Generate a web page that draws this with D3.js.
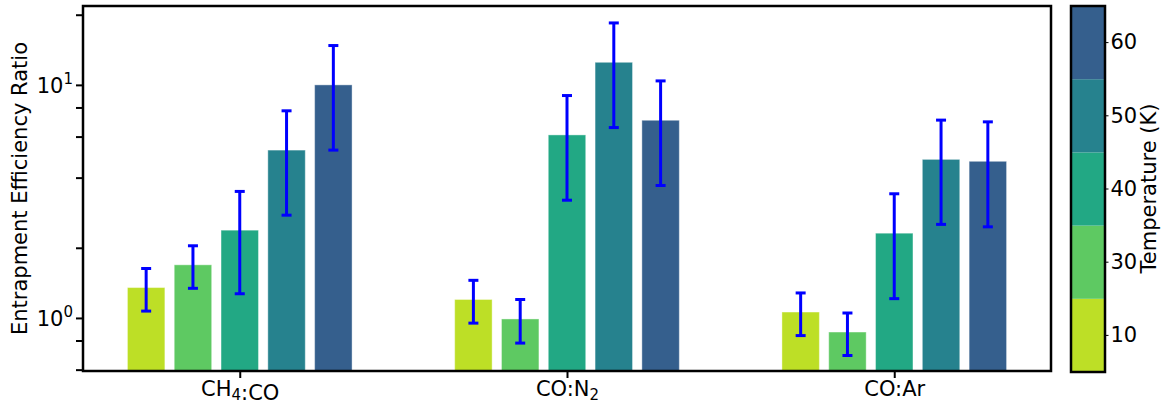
<!DOCTYPE html>
<html>
<head>
<meta charset="utf-8">
<script src="https://cdn.jsdelivr.net/npm/d3@7"></script>
<style>
body { margin: 0; background: #fff; }
text { font-family: 'DejaVu Sans', sans-serif; fill: #000; }
</style>
</head>
<body>
<div id="chart"></div>
<script>
// data (ratio and symmetric error per temperature)
var categories = ['CH4:CO', 'CO:N2', 'CO:Ar'];
var temperatures = [10, 30, 40, 50, 60];
var temp_colors = ['#bddf26', '#5ec962', '#22a884', '#26828e', '#355f8d'];

var ch4_co_ratio = [1.35, 1.69, 2.38, 5.25, 10.0];
var ch4_co_err   = [0.28, 0.35, 1.11, 2.49, 4.75];
var co_n2_ratio  = [1.20, 0.99, 6.10, 12.5, 7.05];
var co_n2_err    = [0.25, 0.21, 2.90, 5.94, 3.35];
var co_ar_ratio  = [1.06, 0.87, 2.31, 4.79, 4.70];
var co_ar_err    = [0.22, 0.18, 1.10, 2.27, 2.24];

var y_major = [1, 10];
var y_minor = [0.6, 0.8, 2, 4, 6, 8, 20];

var ratios = [ch4_co_ratio, co_n2_ratio, co_ar_ratio];
var errors = [ch4_co_err, co_n2_err, co_ar_err];

var W = 1166, H = 406;
var plot = { left: 83, right: 1051, top: 6, bottom: 371 };
var cbar = { left: 1071, right: 1105 };
var fontSize = 21;

// flat table for the bars
var rows = [];
categories.forEach(function (cat, i) {
    temperatures.forEach(function (t, j) {
        rows.push({ cat: cat, temp: t, value: ratios[i][j], err: errors[i][j], color: temp_colors[j] });
    });
});

var svg = d3.select('#chart').append('svg')
    .attr('width', W)
    .attr('height', H);

var xScale = d3.scalePoint()
    .domain(categories)
    .range([plot.left, plot.right])
    .padding(0.479);

var group_w = 234;
var inner = d3.scaleBand()
    .domain(temperatures)
    .range([-group_w / 2, group_w / 2])
    .paddingInner(0.2)
    .paddingOuter(0.1);

var yScale = d3.scaleLog()
    .domain([0.592, 21.8])
    .range([plot.bottom, plot.top]);

// bars
svg.append('g').selectAll('rect')
    .data(rows).enter()
    .append('rect')
    .attr('x', function (d) { return xScale(d.cat) + inner(d.temp); })
    .attr('y', function (d) { return yScale(d.value); })
    .attr('width', inner.bandwidth())
    .attr('height', function (d) { return plot.bottom - yScale(d.value); })
    .attr('fill', function (d) { return d.color; })
    .attr('stroke', '#fff')
    .attr('stroke-opacity', 0.4)
    .attr('stroke-width', 1);

// error bars
var eb = svg.append('g').selectAll('g')
    .data(rows).enter()
    .append('g')
    .attr('stroke', '#0000ff')
    .attr('stroke-width', 3);
var cx = function (d) { return xScale(d.cat) + inner(d.temp) + inner.bandwidth() / 2; };
eb.append('line')
    .attr('x1', cx).attr('x2', cx)
    .attr('y1', function (d) { return yScale(d.value + d.err); })
    .attr('y2', function (d) { return yScale(d.value - d.err); });
eb.append('line')
    .attr('x1', function (d) { return cx(d) - 5; })
    .attr('x2', function (d) { return cx(d) + 5; })
    .attr('y1', function (d) { return yScale(d.value + d.err); })
    .attr('y2', function (d) { return yScale(d.value + d.err); });
eb.append('line')
    .attr('x1', function (d) { return cx(d) - 5; })
    .attr('x2', function (d) { return cx(d) + 5; })
    .attr('y1', function (d) { return yScale(d.value - d.err); })
    .attr('y2', function (d) { return yScale(d.value - d.err); });

// y axis: major ticks with 10^n labels, minor ticks without
var yMinorAxis = d3.axisLeft(yScale)
    .tickValues(y_minor)
    .tickSize(7)
    .tickSizeOuter(0)
    .tickFormat('');
svg.append('g')
    .attr('class', 'yminor')
    .attr('transform', 'translate(' + plot.left + ',0)')
    .call(yMinorAxis);

var yAxis = d3.axisLeft(yScale)
    .tickValues(y_major)
    .tickSize(7)
    .tickSizeOuter(0)
    .tickFormat('');
var yg = svg.append('g')
    .attr('class', 'yaxis')
    .attr('transform', 'translate(' + plot.left + ',0)')
    .call(yAxis);
yg.selectAll('.tick').each(function (d) {
    var t = d3.select(this).append('text')
        .attr('x', -10)
        .attr('y', 8)
        .attr('text-anchor', 'end')
        .style('font-size', fontSize + 'px')
        .text('10');
    t.append('tspan')
        .attr('dy', -9)
        .style('font-size', '15px')
        .text(Math.round(Math.log10(d)));
});

// x axis
var xAxis = d3.axisBottom(xScale)
    .tickSize(7)
    .tickSizeOuter(0)
    .tickFormat('');
var xg = svg.append('g')
    .attr('class', 'xaxis')
    .attr('transform', 'translate(0,' + plot.bottom + ')')
    .call(xAxis);
xg.selectAll('.tick').each(function (d) {
    var t = d3.select(this).append('text')
        .attr('y', 25)
        .attr('text-anchor', 'middle')
        .style('font-size', fontSize + 'px');
    // digits in formulas are subscripts
    d.match(/\d+|\D+/g).forEach(function (part) {
        if (/\d/.test(part)) {
            t.append('tspan').attr('dy', 4).style('font-size', '15px').text(part);
            t.append('tspan').attr('dy', -4).text('');
        } else {
            t.append('tspan').text(part);
        }
    });
});

svg.selectAll('.yaxis line, .yminor line, .xaxis line')
    .attr('stroke', '#000')
    .attr('stroke-width', 2);
svg.selectAll('.yaxis path, .yminor path, .xaxis path').remove();

// frame
svg.append('rect')
    .attr('x', plot.left).attr('y', plot.top)
    .attr('width', plot.right - plot.left)
    .attr('height', plot.bottom - plot.top)
    .attr('fill', 'none')
    .attr('stroke', '#000')
    .attr('stroke-width', 2.5);

// y label
svg.append('text')
    .attr('transform', 'translate(27,' + (plot.top + plot.bottom) / 2 + ') rotate(-90)')
    .attr('text-anchor', 'middle')
    .style('font-size', fontSize + 'px')
    .text('Entrapment Efficiency Ratio');

// colorbar
var cScale = d3.scaleBand()
    .domain(temperatures.slice().reverse())
    .range([plot.top, plot.bottom + 1]);
svg.append('g').selectAll('rect')
    .data(temperatures).enter()
    .append('rect')
    .attr('x', cbar.left)
    .attr('y', function (d) { return cScale(d); })
    .attr('width', cbar.right - cbar.left)
    .attr('height', cScale.bandwidth())
    .attr('fill', function (d, i) { return temp_colors[i]; });
svg.append('rect')
    .attr('x', cbar.left).attr('y', plot.top)
    .attr('width', cbar.right - cbar.left)
    .attr('height', plot.bottom + 1 - plot.top)
    .attr('fill', 'none')
    .attr('stroke', '#000')
    .attr('stroke-width', 2.5);

var cAxis = d3.axisRight(cScale)
    .tickSize(3.5)
    .tickPadding(2)
    .tickSizeOuter(0);
var cg = svg.append('g')
    .attr('transform', 'translate(' + cbar.right + ',0)')
    .call(cAxis);
cg.select('path').remove();
cg.selectAll('line').attr('stroke', '#000').attr('stroke-width', 1);
cg.selectAll('text')
    .attr('fill', '#000')
    .style('font-family', "'DejaVu Sans', sans-serif")
    .style('font-size', fontSize + 'px');

svg.append('text')
    .attr('transform', 'translate(1156,' + (plot.top + plot.bottom) / 2 + ') rotate(-90)')
    .attr('text-anchor', 'middle')
    .style('font-size', fontSize + 'px')
    .text('Temperature (K)');
</script>
</body>
</html>
